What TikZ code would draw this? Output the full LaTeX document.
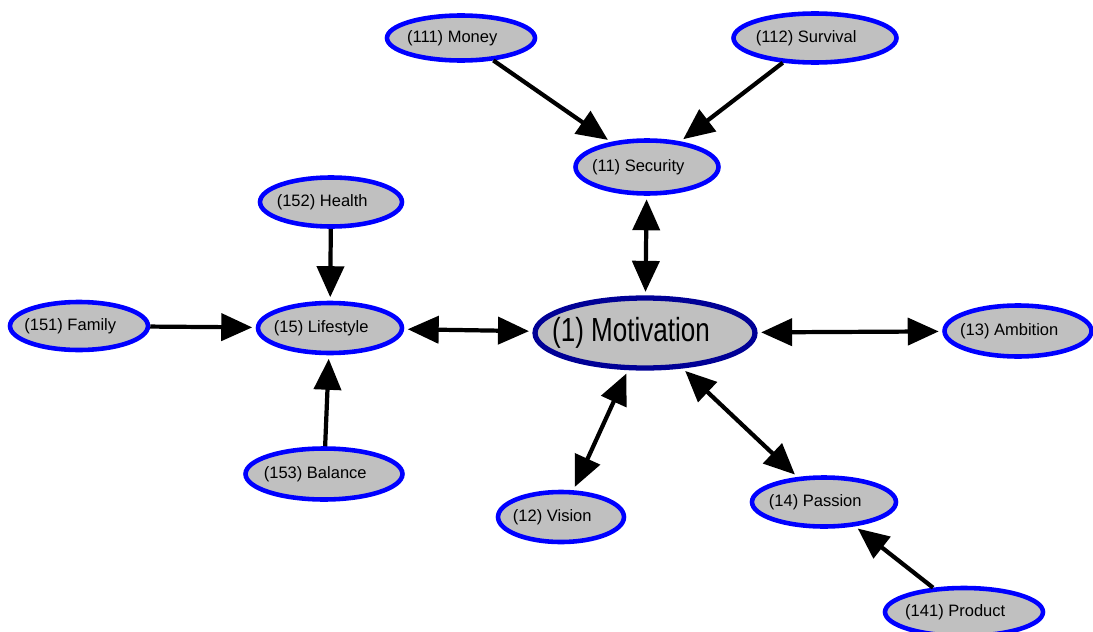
\documentclass[tikz,border=0pt]{standalone}
\usepackage{fontspec}
\setmainfont{Liberation Sans}
\usetikzlibrary{shapes.geometric,arrows.meta}
\definecolor{nodefill}{RGB}{192,192,192}
\definecolor{leafborder}{RGB}{0,0,255}
\definecolor{hubborder}{RGB}{0,0,150}
% labels sit a little left of the ellipse centre and never widen it
\newcommand{\lbl}[1]{\makebox[0pt]{#1\kern0.35cm}}
\begin{document}
\begin{tikzpicture}[x=0.02cm,y=-0.02cm,
  topic/.style={ellipse, draw=leafborder, fill=nodefill, line width=2.6pt,
    inner sep=0pt, font=\fontsize{9.4}{11}\selectfont},
  hub/.style={ellipse, draw=hubborder, fill=nodefill, line width=3pt,
    inner sep=0pt, minimum width=4.4cm, minimum height=1.4cm,
    font=\fontsize{19}{22}\selectfont},
  link/.style={line width=2.4pt, -{Triangle[length=0.62cm,width=0.54cm]}, shorten >=2pt},
  twoway/.style={line width=2.4pt,
    {Triangle[length=0.62cm,width=0.54cm]}-{Triangle[length=0.62cm,width=0.54cm]},
    shorten >=2pt, shorten <=2pt}]
\useasboundingbox (0,0) rectangle (1093,632);

% central concept
\node[hub] (mot) at (645,333) {\makebox[0pt]{\scalebox{0.78}[1]{(1) Motivation}\kern0.56cm}};

% first ring
\node[topic, minimum width=2.86cm, minimum height=1.06cm] (sec) at (647,167) {\lbl{(11) Security}};
\node[topic, minimum width=2.88cm, minimum height=1.0cm] (life) at (330,328) {\lbl{(15) Lifestyle}};
\node[topic, minimum width=2.94cm, minimum height=1.02cm] (amb) at (1018,331) {\lbl{(13) Ambition}};
\node[topic, minimum width=2.52cm, minimum height=1.0cm] (vis) at (561,517) {\lbl{(12) Vision}};
\node[topic, minimum width=2.88cm, minimum height=0.98cm] (pas) at (824,502) {\lbl{(14) Passion}};

% second ring
\node[topic, minimum width=2.96cm, minimum height=0.9cm] (mon) at (461,38) {\lbl{(111) Money}};
\node[topic, minimum width=3.26cm, minimum height=0.98cm] (sur) at (815,38) {\lbl{(112) Survival}};
\node[topic, minimum width=2.84cm, minimum height=0.98cm] (hea) at (331,202) {\lbl{(152) Health}};
\node[topic, minimum width=2.76cm, minimum height=0.96cm] (fam) at (79,326) {\lbl{(151) Family}};
\node[topic, minimum width=3.14cm, minimum height=1.02cm] (bal) at (324,474) {\lbl{(153) Balance}};
\node[topic, minimum width=3.16cm, minimum height=0.96cm] (pro) at (964,612) {\lbl{(141) Product}};

% two-way links to the centre
\draw[twoway] (sec) -- (mot);
\draw[twoway] (life) -- (mot);
\draw[twoway] (mot) -- (amb);
\draw[twoway] (mot) -- (vis);
\draw[twoway] (mot) -- (pas);

% feeding links
\draw[link] (mon) -- (sec);
\draw[link] (sur) -- (sec);
\draw[link] (hea) -- (life);
\draw[link] (fam) -- (life);
\draw[link] (bal) -- (life);
\draw[link] (pro) -- (pas);
\end{tikzpicture}
\end{document}
